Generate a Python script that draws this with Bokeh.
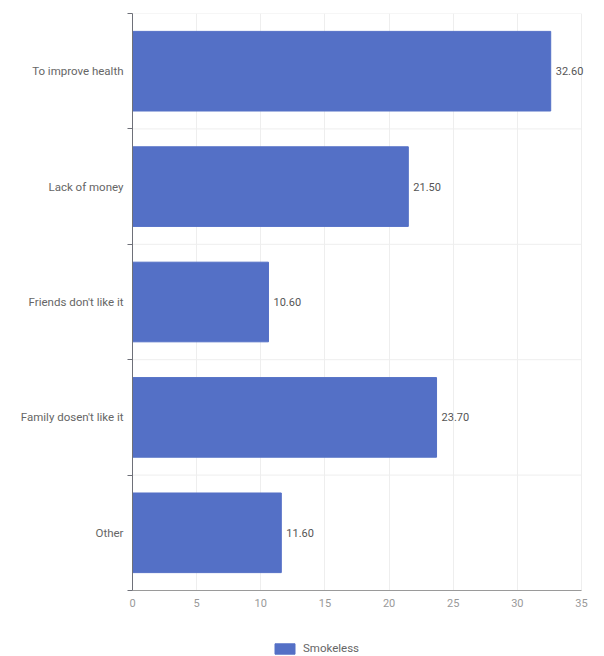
from bokeh.plotting import figure
from bokeh.models import ColumnDataSource, FixedTicker, Range1d, Legend, LegendItem, LabelSet
from bokeh.layouts import column
from bokeh.core.properties import value
from bokeh.embed import file_html
from bokeh.resources import INLINE

categories = ["To improve health", "Lack of money", "Friends don't like it",
              "Family dosen't like it", "Other"]
values = [32.6, 21.5, 10.6, 23.7, 11.6]
x_ticks = [0, 5, 10, 15, 20, 25, 30, 35]
series_name = "Smokeless"

BAR = "#5470C6"
n = len(categories)
x_max = x_ticks[-1]
# top-to-bottom ordering -> positions
ypos = [n - 1 - i + 0.5 for i in range(n)]
src = ColumnDataSource(dict(
    y=ypos, v=values, cat=categories,
    lab=[f"{v:.2f}" for v in values],
))

# frame extends a little past the last tick so value labels are not clipped
pad_px = 12
frame_w = 449
p = figure(frame_width=frame_w + pad_px, frame_height=577, output_backend="svg",
           toolbar_location=None,
           x_range=Range1d(0, x_max * (frame_w + pad_px) / frame_w), y_range=Range1d(0, n),
           min_border_left=132, min_border_right=4, min_border_top=13,
           min_border_bottom=30)
p.outline_line_color = None

# horizontal grid lines at category boundaries, ending at the last tick
bounds = list(range(n + 1))
p.segment(x0=[0] * len(bounds), x1=[x_max] * len(bounds), y0=bounds, y1=bounds,
          line_color="#eeeeee", line_width=1)

bars = p.hbar(y="y", right="v", left=0, height=0.69, source=src,
              fill_color=BAR, line_color=BAR, line_width=1)

labels = LabelSet(x="v", y="y", text="lab", source=src, x_offset=5,
                  text_baseline="middle", text_font=value("Roboto"),
                  text_font_size="11px", text_color="#555555")
p.add_layout(labels)

# y axis
p.yaxis.ticker = FixedTicker(ticks=ypos, minor_ticks=bounds)
p.yaxis.major_label_overrides = {y: c for y, c in zip(ypos, categories)}
p.yaxis.major_tick_line_color = None
p.yaxis.major_tick_out = 0
p.yaxis.major_tick_in = 0
p.yaxis.minor_tick_in = 0
p.yaxis.minor_tick_out = 5
p.yaxis.minor_tick_line_color = "#6E7079"
p.yaxis.axis_line_color = "#6E7079"
p.yaxis.major_label_text_font = "Roboto"
p.yaxis.major_label_text_font_size = "11.5px"
p.yaxis.major_label_text_color = "#666666"
p.yaxis.major_label_standoff = 4

# x axis
p.xaxis.ticker = FixedTicker(ticks=x_ticks)
p.xaxis.bounds = (0, x_max)
p.xaxis.major_tick_line_color = None
p.xaxis.major_tick_out = 0
p.xaxis.major_tick_in = 0
p.xaxis.minor_tick_line_color = None
p.xaxis.axis_line_color = "#9a9a9a"
p.xaxis.major_label_text_font = "Roboto"
p.xaxis.major_label_text_font_size = "11px"
p.xaxis.major_label_text_color = "#999999"
p.xaxis.major_label_standoff = 8

# grids
p.ygrid.grid_line_color = None
p.xgrid.ticker = FixedTicker(ticks=x_ticks)
p.xgrid.grid_line_color = "#eeeeee"

# legend in its own small figure below (swatch renderer sits outside the visible range)
lg = figure(width=600, height=36, output_backend="svg", toolbar_location=None,
            x_range=Range1d(0, 1), y_range=Range1d(0, 1),
            min_border_left=0, min_border_right=0, min_border_top=0, min_border_bottom=0)
lg.axis.visible = False
lg.grid.visible = False
lg.outline_line_color = None
swatch = lg.hbar(y=[-5], right=[1], left=0, height=0.5,
                 fill_color=BAR, line_color=BAR)
legend = Legend(items=[LegendItem(label=series_name, renderers=[swatch])],
                orientation="horizontal", location=(140, 1),
                label_text_font="Roboto", label_text_font_size="11.5px",
                label_text_color="#666666", border_line_color=None,
                background_fill_alpha=0,
                glyph_width=25, glyph_height=13, margin=0, padding=0,
                spacing=6, label_height=13, label_standoff=6)
lg.add_layout(legend, "center")

layout = column(p, lg, spacing=0)
open("out.html", "w").write(file_html(layout, INLINE))
